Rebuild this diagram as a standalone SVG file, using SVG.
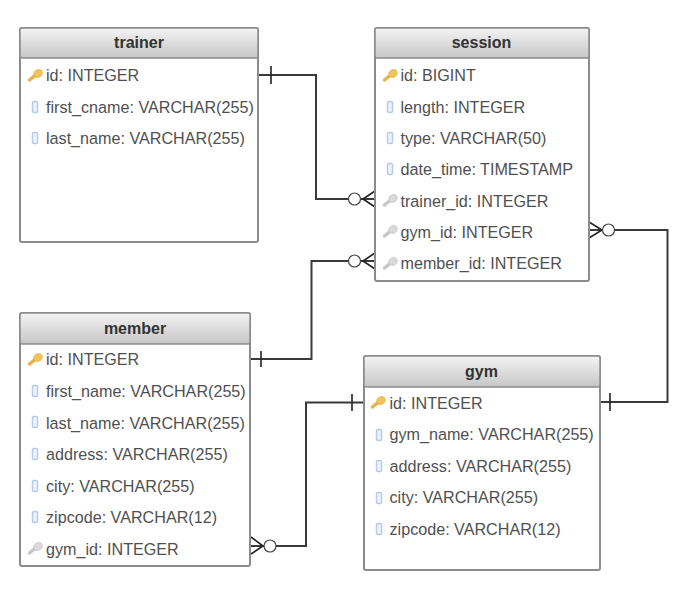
<svg xmlns="http://www.w3.org/2000/svg" width="678" height="589" viewBox="0 0 678 589">
<style>
.box{fill:#fff;stroke:#8c8c8c;stroke-width:2}
.hd{fill:url(#hg);stroke:#8c8c8c;stroke-width:1.5}
.title{font:bold 16px "Liberation Sans",Arial,sans-serif;fill:#333;text-anchor:middle}
.row{font:16.15px "Liberation Sans",Arial,sans-serif;fill:#505050}
.ln{fill:none;stroke:#3a3a3a;stroke-width:2}
.crow{fill:none;stroke:#222;stroke-width:1.6}
.circ{fill:#fff;stroke:#444;stroke-width:1.2}
</style>
<defs>
<linearGradient id="hg" x1="0" y1="0" x2="0" y2="1"><stop offset="0" stop-color="#f4f4f4"/><stop offset="1" stop-color="#c6c6c6"/></linearGradient>
<g id="pk"><path d="M-5.500 5L0 0.500" stroke="#e6b24a" stroke-width="3.500" stroke-linecap="round" fill="none"/><ellipse cx="3" cy="-1.500" rx="4.500" ry="3.800" fill="#f2c55a" stroke="#dca93c" stroke-width="0.600" transform="rotate(-30 3 -1.500)"/></g>
<g id="fk"><path d="M-5.500 5L0 0.500" stroke="#c6c6c6" stroke-width="3.500" stroke-linecap="round" fill="none"/><ellipse cx="3" cy="-1.500" rx="4.500" ry="3.800" fill="#dadada" stroke="#c0c0c0" stroke-width="0.600" transform="rotate(-30 3 -1.500)"/></g>
<rect id="col" x="-2.500" y="-5.500" width="5" height="11" rx="1.500" fill="#eef3fb" stroke="#b4cbec" stroke-width="1.500"/>
</defs>
<g id="connectors">
<path class="ln" d="M259 75H316V199H375"/>
<path class="ln" d="M375 261H311.500V359H251"/>
<path class="ln" d="M590 230H667.500V402H601"/>
<path class="ln" d="M251 546H306V402.500H364"/>
<path class="crow" d="M271 66V84M352 394V411M261 351V367M610 393V411"/>
<path class="crow" d="M375 191L363 199L375 207M375 253L363 261L375 269M589 222L602 230L589 238M251 537L263 546L251 554"/>
<circle class="circ" cx="354.500" cy="199" r="6"/><circle class="circ" cx="354.500" cy="261" r="6"/><circle class="circ" cx="608.500" cy="230" r="6"/><circle class="circ" cx="270" cy="546" r="6"/>
</g>
<g id="trainer">
<rect class="box" x="20" y="28" width="238" height="214" rx="2"/><rect class="hd" x="20" y="28" width="238" height="30" rx="2"/>
<text class="title" x="139" y="48">trainer</text>
<use href="#pk" x="35" y="75"/><text class="row" x="46" y="81">id: INTEGER</text>
<use href="#col" x="35" y="107"/><text class="row" x="46" y="112.500">first_cname: VARCHAR(255)</text>
<use href="#col" x="35" y="138"/><text class="row" x="46" y="144">last_name: VARCHAR(255)</text>
</g>
<g id="session">
<rect class="box" x="375" y="28" width="214" height="253" rx="2"/><rect class="hd" x="375" y="28" width="214" height="30" rx="2"/>
<text class="title" x="481.500" y="48">session</text>
<use href="#pk" x="390" y="75"/><text class="row" x="400.500" y="81">id: BIGINT</text>
<use href="#col" x="390" y="107"/><text class="row" x="400.500" y="112.500">length: INTEGER</text>
<use href="#col" x="390" y="138"/><text class="row" x="400.500" y="144">type: VARCHAR(50)</text>
<use href="#col" x="390" y="169"/><text class="row" x="400.500" y="175">date_time: TIMESTAMP</text>
<use href="#fk" x="390" y="200"/><text class="row" x="400.500" y="207">trainer_id: INTEGER</text>
<use href="#fk" x="390" y="231"/><text class="row" x="400.500" y="238">gym_id: INTEGER</text>
<use href="#fk" x="390" y="263"/><text class="row" x="400.500" y="269">member_id: INTEGER</text>
</g>
<g id="member">
<rect class="box" x="20" y="313" width="230" height="253" rx="2"/><rect class="hd" x="20" y="313" width="230" height="31" rx="2"/>
<text class="title" x="135" y="334">member</text>
<use href="#pk" x="35" y="359"/><text class="row" x="46" y="365">id: INTEGER</text>
<use href="#col" x="35" y="391"/><text class="row" x="46" y="397">first_name: VARCHAR(255)</text>
<use href="#col" x="35" y="422"/><text class="row" x="46" y="428.500">last_name: VARCHAR(255)</text>
<use href="#col" x="35" y="454"/><text class="row" x="46" y="460">address: VARCHAR(255)</text>
<use href="#col" x="35" y="486"/><text class="row" x="46" y="492">city: VARCHAR(255)</text>
<use href="#col" x="35" y="517"/><text class="row" x="46" y="523">zipcode: VARCHAR(12)</text>
<use href="#fk" x="35" y="548"/><text class="row" x="46" y="554.500">gym_id: INTEGER</text>
</g>
<g id="gym">
<rect class="box" x="364" y="356" width="236" height="214" rx="2"/><rect class="hd" x="364" y="356" width="236" height="31" rx="2"/>
<text class="title" x="481.500" y="377">gym</text>
<use href="#pk" x="378" y="402"/><text class="row" x="389.500" y="408.500">id: INTEGER</text>
<use href="#col" x="379" y="435"/><text class="row" x="389.500" y="440">gym_name: VARCHAR(255)</text>
<use href="#col" x="379" y="466"/><text class="row" x="389.500" y="471.500">address: VARCHAR(255)</text>
<use href="#col" x="379" y="498"/><text class="row" x="389.500" y="503">city: VARCHAR(255)</text>
<use href="#col" x="379" y="529"/><text class="row" x="389.500" y="535">zipcode: VARCHAR(12)</text>
</g>
</svg>
